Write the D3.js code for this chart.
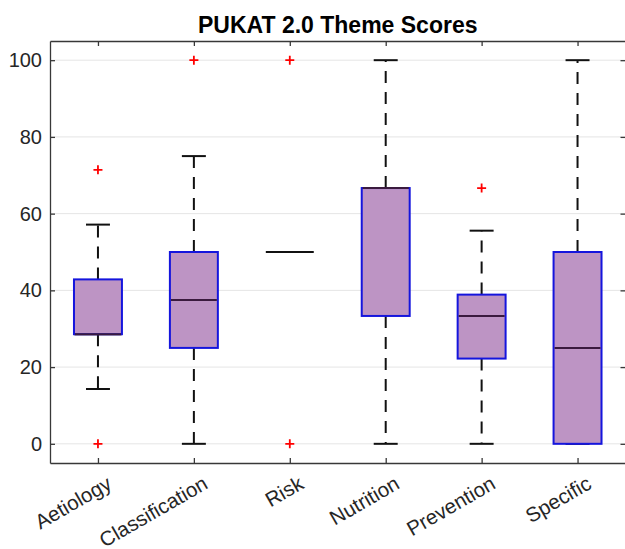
<!DOCTYPE html>
<html>
<head>
<meta charset="utf-8">
<script src="https://cdn.jsdelivr.net/npm/d3@7"></script>
<style>
  body { margin: 0; background: #fff; }
  text { font-family: "Liberation Sans", Arial, Helvetica, sans-serif; }
</style>
</head>
<body>
<svg id="chart" width="625" height="549"></svg>
<script>
// data
var themes = ['Aetiology', 'Classification', 'Risk', 'Nutrition', 'Prevention', 'Specific']
var whiskerLow = [14.29, 0, 50, 0, 0, 0]
var q1 = [28.57, 25, 50, 33.33, 22.22, 0]
var median = [28.57, 37.5, 50, 66.67, 33.33, 25]
var q3 = [42.86, 50, 50, 66.67, 38.89, 50]
var whiskerHigh = [57.14, 75, 50, 100, 55.56, 100]
var outliers = [[71.43, 0], [100], [100, 0], [], [66.67], []]
var yTicks = [0, 20, 40, 60, 80, 100]

var plotLeft = 50, plotRight = 625.5, plotTop = 41, plotBottom = 463

var boxFill = '#bd94c4'
var boxEdge = '#1515dd'
var medianColor = '#3a1a3e'
var axisColor = '#383838'

var svg = d3.select('#chart')

var x = d3.scaleLinear().domain([0.5, 6.5]).range([plotLeft, plotRight])
var y = d3.scaleLinear().domain([-5, 105]).range([plotBottom, plotTop])

var rows = themes.map(function(t, i) {
  return { name: t, i: i + 1, lo: whiskerLow[i], q1: q1[i], med: median[i], q3: q3[i], hi: whiskerHigh[i], out: outliers[i] }
})

// grid
svg.append('g')
  .selectAll('line')
  .data(yTicks)
  .enter().append('line')
    .attr('x1', plotLeft).attr('x2', plotRight)
    .attr('y1', function(d) { return y(d) }).attr('y2', function(d) { return y(d) })
    .attr('stroke', '#e5e5e5').attr('stroke-width', 1)

var boxW = 0.25, capW = 0.125

var g = svg.append('g')

rows.forEach(function(d) {
  var cx = x(d.i)
  // whiskers (dashed)
  if (d.hi > d.q3) {
    g.append('line').attr('x1', cx).attr('x2', cx).attr('y1', y(d.q3)).attr('y2', y(d.hi))
      .attr('stroke', '#111').attr('stroke-width', 2).attr('stroke-dasharray', '12,9')
  }
  if (d.lo < d.q1) {
    g.append('line').attr('x1', cx).attr('x2', cx).attr('y1', y(d.q1)).attr('y2', y(d.lo))
      .attr('stroke', '#111').attr('stroke-width', 2).attr('stroke-dasharray', '12,9')
  }
  // caps
  if (d.q3 > d.q1) {
    ;[d.lo, d.hi].forEach(function(v) {
      g.append('line').attr('x1', x(d.i - capW)).attr('x2', x(d.i + capW))
        .attr('y1', y(v)).attr('y2', y(v))
        .attr('stroke', '#111').attr('stroke-width', 2)
    })
  }
  // median (under translucent box)
  g.append('line').attr('x1', x(d.i - boxW)).attr('x2', x(d.i + boxW))
    .attr('y1', y(d.med)).attr('y2', y(d.med))
    .attr('stroke', d.q3 > d.q1 ? medianColor : '#111').attr('stroke-width', 2)
  // box
  if (d.q3 > d.q1) {
    g.append('rect')
      .attr('x', x(d.i - boxW)).attr('width', x(d.i + boxW) - x(d.i - boxW))
      .attr('y', y(d.q3)).attr('height', y(d.q1) - y(d.q3))
      .attr('fill', boxFill)
      .attr('stroke', boxEdge).attr('stroke-width', 2)
    g.append('line').attr('x1', x(d.i - boxW) + 1).attr('x2', x(d.i + boxW) - 1)
      .attr('y1', y(d.med)).attr('y2', y(d.med))
      .attr('stroke', medianColor).attr('stroke-width', 2)
  }
  // outliers
  d.out.forEach(function(v) {
    g.append('path')
      .attr('d', 'M' + (cx - 4.5) + ',' + y(v) + 'h9M' + cx + ',' + (y(v) - 4.5) + 'v9')
      .attr('stroke', '#ff0000').attr('stroke-width', 1.8).attr('fill', 'none')
  })
})

// axes with inward ticks
var xAxis = d3.axisBottom(x).tickValues(d3.range(1, 7)).tickSize(-5).tickSizeOuter(0).tickFormat('')
var xAxisTop = d3.axisTop(x).tickValues(d3.range(1, 7)).tickSize(-5).tickSizeOuter(0).tickFormat('')
var yAxis = d3.axisLeft(y).tickValues(yTicks).tickSize(-5).tickSizeOuter(0).tickPadding(8)
var yAxisRight = d3.axisRight(y).tickValues(yTicks).tickSize(-5).tickSizeOuter(0).tickFormat('')

function styleAxis(sel) {
  sel.selectAll('.domain').attr('stroke', axisColor).attr('stroke-width', 1.3)
  sel.selectAll('.tick line').attr('stroke', axisColor).attr('stroke-width', 1.3)
  sel.selectAll('.tick text').attr('fill', '#262626').style('font-size', '20px')
}

svg.append('g').attr('transform', 'translate(0,' + plotBottom + ')').call(xAxis).call(styleAxis)
svg.append('g').attr('transform', 'translate(0,' + plotTop + ')').call(xAxisTop).call(styleAxis)
svg.append('g').attr('transform', 'translate(' + plotLeft + ',0)').call(yAxis).call(styleAxis)
svg.append('g').attr('transform', 'translate(' + plotRight + ',0)').call(yAxisRight).call(styleAxis)

// rotated category labels
svg.append('g')
  .selectAll('text')
  .data(rows)
  .enter().append('text')
    .attr('transform', function(d) { return 'translate(' + (x(d.i) + 8) + ',' + (plotBottom + 12) + ') rotate(-30)' })
    .attr('text-anchor', 'end')
    .attr('dy', '0.71em')
    .attr('fill', '#262626')
    .style('font-size', '20.5px')
    .text(function(d) { return d.name })

// title
svg.append('text')
  .attr('x', (plotLeft + plotRight) / 2)
  .attr('y', 33)
  .attr('text-anchor', 'middle')
  .style('font-size', '23px')
  .style('font-weight', 'bold')
  .attr('fill', '#000')
  .text('PUKAT 2.0 Theme Scores')
</script>
</body>
</html>
